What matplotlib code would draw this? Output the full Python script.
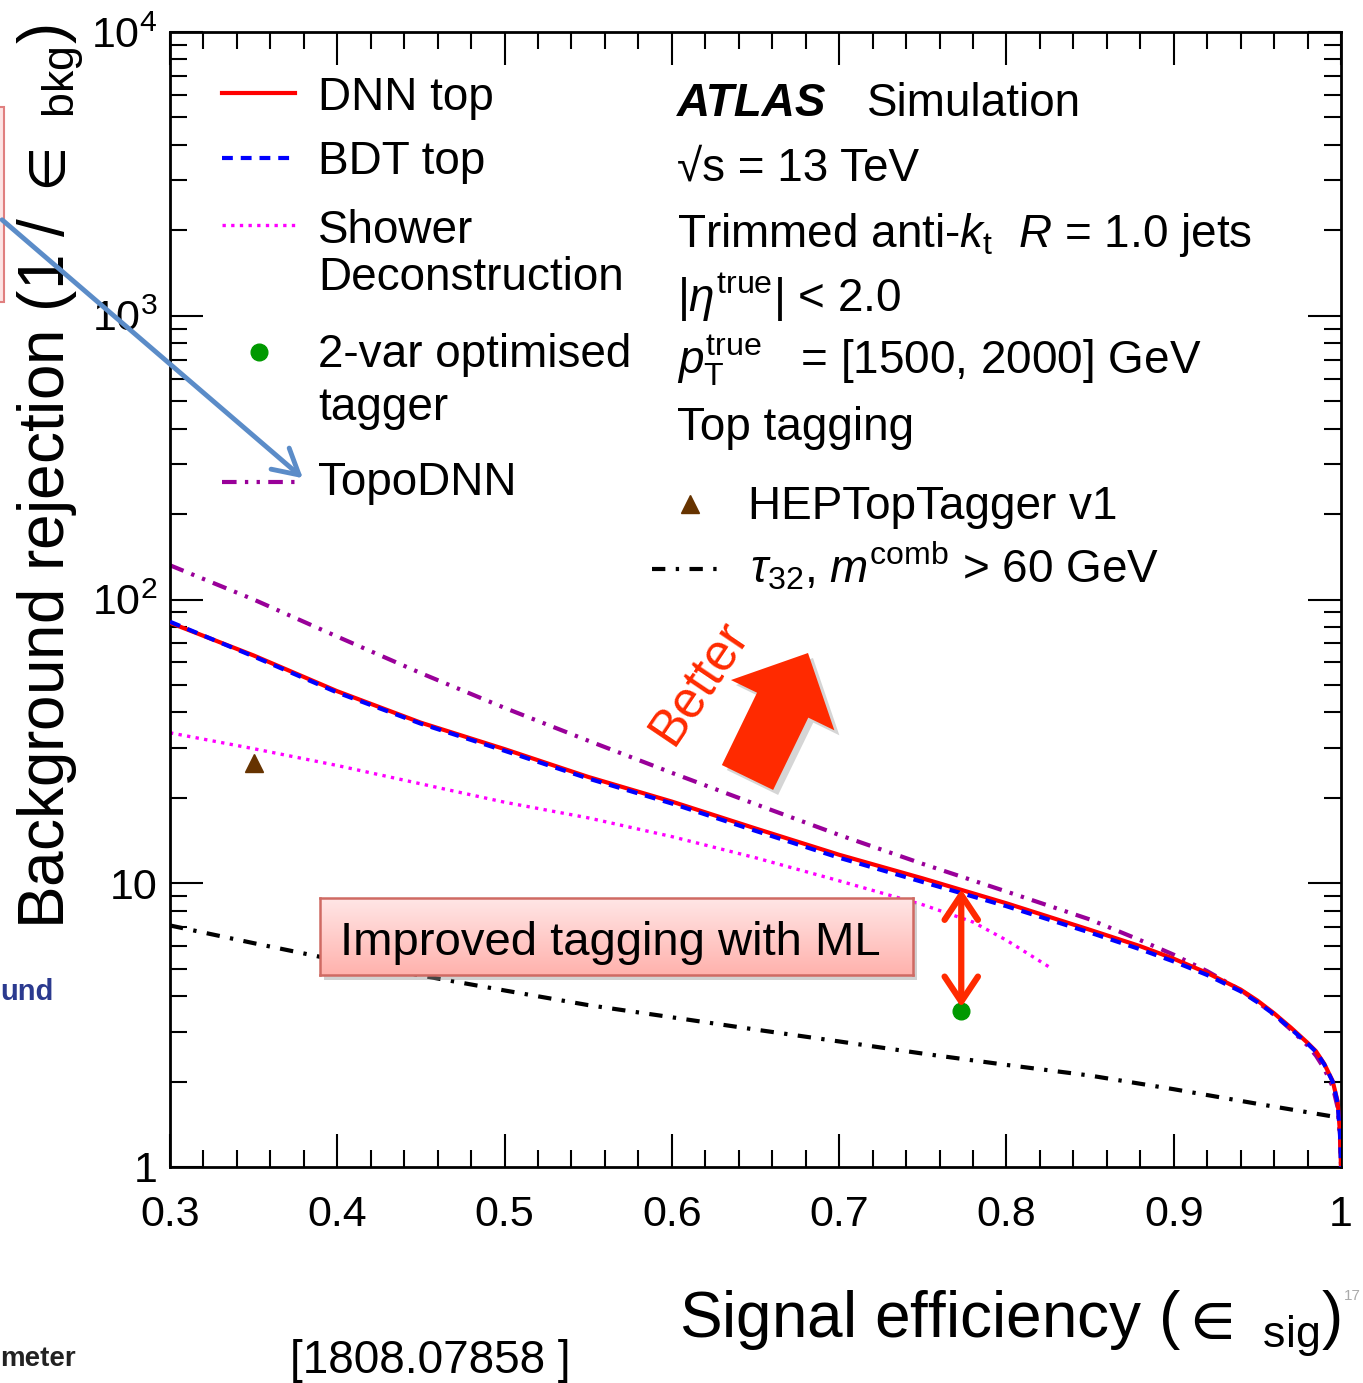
import matplotlib
matplotlib.use("Agg")
import matplotlib.pyplot as plt
import matplotlib.transforms as mtransforms
from matplotlib.patches import FancyArrow, FancyArrowPatch, Rectangle
from matplotlib.lines import Line2D
from matplotlib.colors import LinearSegmentedColormap
from matplotlib.ticker import MultipleLocator, LogLocator, FuncFormatter, NullFormatter
import numpy as np

# ROC curves (arXiv:1808.07858)
eff = [0.30, 0.35, 0.40, 0.45, 0.50, 0.55, 0.60, 0.65, 0.70, 0.75, 0.80, 0.85, 0.88,
       0.90, 0.92, 0.94, 0.95, 0.96, 0.97, 0.98, 0.985, 0.99, 0.995, 0.998, 0.9994, 1.0]
rej_dnn = [82.8, 63.5, 47.5, 36.8, 29.7, 23.7, 19.4, 15.6, 12.6, 10.4, 8.5, 6.85, 6.0,
           5.42, 4.83, 4.22, 3.86, 3.48, 3.1, 2.74, 2.56, 2.31, 2.01, 1.70, 1.32, 1.0]
rej_bdt = [83.5, 63.0, 47.0, 36.5, 29.3, 23.4, 19.1, 15.3, 12.3, 10.1, 8.3, 6.7, 5.85,
           5.3, 4.75, 4.16, 3.81, 3.45, 3.07, 2.72, 2.55, 2.3, 2.0, 1.68, 1.3, 1.0]
rej_topodnn = [132, 100, 74, 55, 41.5, 31.8, 24.5, 19.0, 14.8, 11.7, 9.35, 7.45, 6.3,
               5.6, 4.9, 4.2, 3.82, 3.44, 3.05, 2.68, 2.47, 2.22, 1.92, 1.62, 1.26, 1.0]

eff_sd = [0.30, 0.35, 0.40, 0.45, 0.50, 0.55, 0.60, 0.65, 0.70, 0.75, 0.78, 0.80, 0.826]
rej_sd = [33.9, 29.8, 26.0, 22.4, 19.3, 17.0, 14.6, 12.3, 10.2, 8.4, 7.3, 6.3, 5.05]

eff_tau = [0.30, 0.35, 0.40, 0.45, 0.50, 0.55, 0.60, 0.65, 0.70, 0.75, 0.80,
           0.85, 0.90, 0.95, 0.997]
rej_tau = [7.1, 6.15, 5.35, 4.73, 4.19, 3.72, 3.37, 3.05, 2.77, 2.51, 2.29,
           2.10, 1.88, 1.67, 1.5]

hep_eff, hep_rej = [0.35], [26.5]
twovar_eff, twovar_rej = [0.773], [3.55]

plt.rcParams['font.family'] = ['Liberation Sans', 'DejaVu Sans']
plt.rcParams['mathtext.fontset'] = 'custom'
plt.rcParams['mathtext.rm'] = 'Liberation Sans'
plt.rcParams['mathtext.it'] = 'Liberation Sans:italic'
plt.rcParams['mathtext.bf'] = 'Liberation Sans:bold'
plt.rcParams['mathtext.default'] = 'regular'

W, H = 1363, 1383
RED = '#ff2a00'
FS = 33

fig = plt.figure(figsize=(W / 100, H / 100), dpi=100)
# pixel coords measured from the top-left corner of the image
px = mtransforms.Affine2D().scale(1 / W, -1 / H).translate(0, 1) + fig.transFigure

ax = fig.add_axes([170 / W, 1 - 1167 / H, 1171 / W, 1135 / H])

ax.plot(eff, rej_dnn, color='#ff0000', lw=3, zorder=3)
ax.plot(eff, rej_bdt, color='#0000ff', lw=3, ls=(0, (2.6, 1.9)), zorder=4)
ax.plot(eff_sd, rej_sd, color='#ff00ff', lw=2.4, ls=(0, (1, 1.6)), zorder=2)
ax.plot(eff, rej_topodnn, color='#990099', lw=3, ls=(0, (3.5, 2, 0.8, 2, 0.8, 2)), zorder=2)
ax.plot(eff_tau, rej_tau, color='black', lw=3, ls=(0, (3.2, 2.5, 0.8, 2.5)), zorder=2)
ax.plot(hep_eff, hep_rej, '^', color='#663300', ms=13, zorder=5)
ax.plot(twovar_eff, twovar_rej, 'o', color='#009900', ms=12, zorder=6)

ax.set_xlim(0.3, 1.0)
ax.set_yscale('log')
ax.set_ylim(1, 1e4)
ax.xaxis.set_major_locator(MultipleLocator(0.1))
ax.xaxis.set_minor_locator(MultipleLocator(0.02))
ax.yaxis.set_major_locator(LogLocator(base=10))
ax.yaxis.set_minor_locator(LogLocator(base=10, subs=np.arange(2, 10)))
ax.yaxis.set_minor_formatter(NullFormatter())


def ylab(v, _):
    e = int(round(np.log10(v)))
    if e == 0:
        return '1'
    if e == 1:
        return '10'
    return '$10^{%d}$' % e


ax.yaxis.set_major_formatter(FuncFormatter(ylab))
ax.xaxis.set_major_formatter(FuncFormatter(lambda v, _: '1' if abs(v - 1) < 1e-9 else f'{v:.1f}'))
ax.tick_params(which='both', direction='in', top=True, right=True, width=1.5, labelsize=31)
ax.tick_params(which='major', length=24)
ax.tick_params(which='minor', length=12)
ax.tick_params(axis='x', pad=20)
ax.tick_params(axis='y', pad=9)
for s in ax.spines.values():
    s.set_linewidth(2)

ax.set_xlabel('Signal efficiency ($\\in$ $_{sig}$)', fontsize=46, loc='right')
ax.xaxis.set_label_coords(1.0, -0.107)
ax.set_ylabel('Background rejection (1 / $\\in$ $_{bkg}$)', fontsize=46, loc='top')
ax.yaxis.set_label_coords(-0.072, 1.006)

# legend, drawn by hand to follow the ROOT layout
def leg_line(x0, x1, y, **kw):
    fig.add_artist(Line2D([x0, x1], [y, y], transform=px, **kw))


def txt(x, y, s, **kw):
    kw.setdefault('fontsize', FS)
    kw.setdefault('va', 'baseline')
    fig.text(x, y, s, transform=px, **kw)


leg_line(222, 295, 93, color='#ff0000', lw=3)
txt(318, 110, 'DNN top')
leg_line(222, 295, 158, color='#0000ff', lw=3, ls=(0, (2.6, 1.9)))
txt(318, 174, 'BDT top')
leg_line(222, 295, 225, color='#ff00ff', lw=2.4, ls=(0, (1, 1.6)))
txt(318, 243, 'Shower')
txt(318, 290, 'Deconstruction')
fig.add_artist(Line2D([259], [352], transform=px, marker='o', color='#009900', ms=12, ls='none'))
txt(318, 367, '2-var optimised')
txt(318, 420, 'tagger')
leg_line(222, 300, 482, color='#990099', lw=3, ls=(0, (3.5, 2, 0.8, 2, 0.8, 2)))
txt(318, 495, 'TopoDNN')

txt(677, 116, 'ATLAS', fontweight='bold', style='italic')
txt(867, 116, 'Simulation')
txt(677, 181, '\u221as = 13 TeV')
txt(677, 247, 'Trimmed anti-$\\mathit{k}_{t}$  $\\mathit{R}$ = 1.0 jets')
txt(677, 312, '|$\\mathit{\\eta}^{true}$| < 2.0')
txt(677, 374, '$\\mathit{p}_{T}^{true}$   = [1500, 2000] GeV')
txt(677, 440, 'Top tagging')
fig.add_artist(Line2D([690], [504], transform=px, marker='^', color='#663300', ms=13, ls='none'))
txt(748, 519, 'HEPTopTagger v1')
leg_line(652, 722, 569, color='black', lw=3, ls=(0, (3.2, 2.5, 0.8, 2.5)))
txt(750, 582, '$\\mathit{\\tau}_{32}$, $\\mathit{m}^{comb}$ > 60 GeV')

# slide annotations
dnn_at = np.interp(twovar_eff[0], eff, rej_dnn)
ax.annotate('', xy=(twovar_eff[0], twovar_rej[0] * 1.03), xytext=(twovar_eff[0], dnn_at),
            arrowprops=dict(arrowstyle='<->,head_length=0.9,head_width=0.6', mutation_scale=20,
                            color=RED, lw=4.5, shrinkA=0, shrinkB=0), zorder=7)

fig.add_artist(FancyArrow(752.5, 782.5, 60.5, -124.5, width=57, head_width=115, head_length=58,
                          length_includes_head=True, transform=px, color='#888888', alpha=0.35,
                          lw=0, zorder=3))
fig.add_artist(FancyArrow(747.5, 777.5, 60.5, -124.5, width=57, head_width=115, head_length=58,
                          length_includes_head=True, transform=px, color=RED, lw=0, zorder=4))
txt(699, 682, 'Better', fontsize=37, color=RED, rotation=56, ha='center', va='center',
    rotation_mode='anchor')

# "Improved tagging with ML" box with gradient fill
fig.add_artist(Rectangle((324, 903), 593, 77, transform=px, facecolor='#999999', alpha=0.45,
                         edgecolor='none', zorder=1))
box = fig.add_axes([320 / W, 1 - 975 / H, 593 / W, 77 / H])
box.set_zorder(2)
grad = np.linspace(0, 1, 64).reshape(-1, 1)
box.imshow(grad, aspect='auto', extent=[0, 1, 0, 1],
           cmap=LinearSegmentedColormap.from_list('pk', ['#ffe6e6', '#ffb2ad']))
box.set_xticks([])
box.set_yticks([])
for s in box.spines.values():
    s.set_edgecolor('#cf6a63')
    s.set_linewidth(1.8)
txt(340, 955, 'Improved tagging with ML', fontsize=34, zorder=5)

# bits of the surrounding slide
fig.add_artist(FancyArrowPatch((0, 218), (305, 480), transform=px,
                               arrowstyle='->,head_length=0.9,head_width=0.5', mutation_scale=20,
                               color='#5b8cc8', lw=3.5, zorder=6))
fig.add_artist(Rectangle((-30, 107), 34, 195, transform=px, facecolor='#fde4e4',
                         edgecolor='#e07f7f', lw=1.5, zorder=1))
txt(0, 1000, 'und', fontsize=21, fontweight='bold', color='#2b3a8f')
txt(0, 1366, 'meter', fontsize=20, fontweight='bold', color='#222222')
txt(290, 1373, '[1808.07858 ]', fontsize=33)
txt(1352, 1300, '17', fontsize=11, color='#aaaaaa', ha='center')

fig.savefig('out.png', dpi=100)
